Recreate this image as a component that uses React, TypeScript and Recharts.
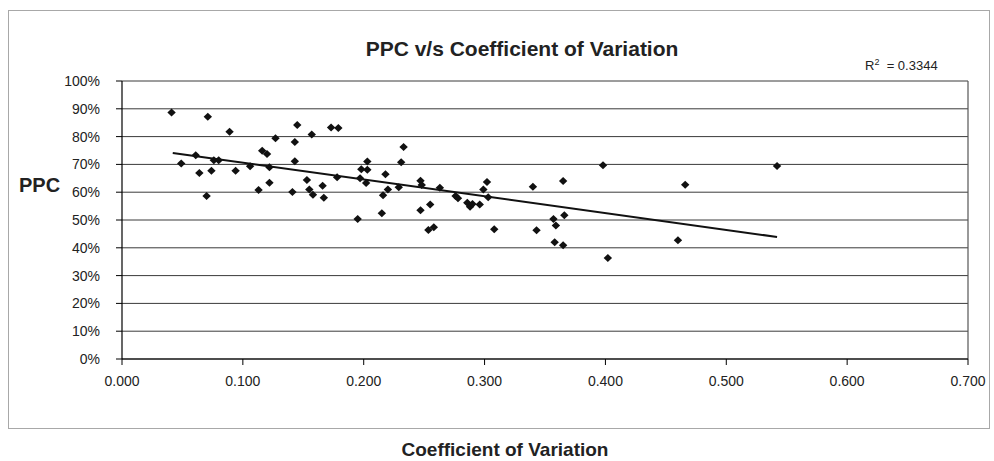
import React from "react";
import {
  ScatterChart,
  Scatter,
  XAxis,
  YAxis,
  CartesianGrid,
  ReferenceLine,
} from "recharts";

// Coefficient of Variation (x) values
const cvValues = [
  0.041, 0.049, 0.061, 0.064, 0.071, 0.07, 0.074, 0.076, 0.08, 0.089,
  0.094, 0.106, 0.113, 0.116, 0.12, 0.122, 0.122, 0.127, 0.145, 0.143,
  0.157, 0.173, 0.179, 0.143, 0.141, 0.153, 0.155, 0.158, 0.166, 0.167,
  0.178, 0.195, 0.197, 0.198, 0.203, 0.203, 0.202, 0.215, 0.216, 0.218,
  0.22, 0.229, 0.231, 0.233, 0.247, 0.248, 0.247, 0.255, 0.263, 0.2535,
  0.258, 0.276, 0.278, 0.2857, 0.288, 0.29, 0.296, 0.299, 0.302, 0.303,
  0.308, 0.34, 0.343, 0.357, 0.359, 0.358, 0.365, 0.366, 0.365, 0.398,
  0.402, 0.466, 0.46, 0.542,
];

// PPC (y) values, as fractions
const ppcValues = [
  0.887, 0.703, 0.733, 0.669, 0.871, 0.586, 0.677, 0.715, 0.715, 0.817,
  0.677, 0.693, 0.608, 0.749, 0.737, 0.69, 0.634, 0.794, 0.842, 0.781,
  0.808, 0.833, 0.831, 0.711, 0.601, 0.644, 0.61, 0.591, 0.623, 0.58,
  0.654, 0.504, 0.65, 0.683, 0.71, 0.681, 0.633, 0.524, 0.589, 0.665,
  0.61, 0.618, 0.708, 0.763, 0.641, 0.626, 0.535, 0.556, 0.616, 0.464,
  0.474, 0.586, 0.578, 0.562, 0.548, 0.558, 0.556, 0.61, 0.637, 0.582,
  0.467, 0.62, 0.463, 0.504, 0.48, 0.42, 0.64, 0.517, 0.409, 0.697,
  0.363, 0.627, 0.427, 0.694,
];

// Linear trend line endpoints
const trendX = [0.042, 0.542];
const trendY = [0.741, 0.439];

const xTicks = [0, 0.1, 0.2, 0.3, 0.4, 0.5, 0.6, 0.7];
const yTicks = [0, 0.1, 0.2, 0.3, 0.4, 0.5, 0.6, 0.7, 0.8, 0.9, 1.0];

const chartTitle = "PPC v/s Coefficient of Variation";
const xTitle = "Coefficient of Variation";
const yTitle = "PPC";
const r2Text = "0.3344";

const points = cvValues.map((x, i) => ({ x, y: ppcValues[i] }));
const trend = trendX.map((x, i) => ({ x, y: trendY[i] }));

const FONT = "'Liberation Sans', Arial, sans-serif";

const Diamond = (props: any) => {
  const { cx, cy } = props;
  if (cx == null || cy == null) return null;
  const w = 4.2;
  const h = 4;
  return (
    <polygon
      points={`${cx},${cy - h} ${cx + w},${cy} ${cx},${cy + h} ${cx - w},${cy}`}
      fill="#111"
      stroke="none"
    />
  );
};

export default function App() {
  return (
    <div
      style={{
        position: "absolute",
        left: 0,
        top: 0,
        width: 994,
        height: 461,
        background: "#fff",
        fontFamily: FONT,
        overflow: "hidden",
      }}
    >
      <div
        style={{
          position: "absolute",
          left: 8,
          top: 10,
          width: 980,
          height: 417,
          border: "1.5px solid #a8a8a8",
        }}
      />
      <ScatterChart
        width={994}
        height={461}
        margin={{ top: 81, right: 26, bottom: 72, left: 62 }}
        style={{ position: "absolute", left: 0, top: 0 }}
      >
        <CartesianGrid
          horizontal={true}
          vertical={false}
          stroke="#3a3a3a"
          strokeWidth={1}
        />
        <XAxis
          type="number"
          dataKey="x"
          domain={[0, 0.7]}
          ticks={xTicks}
          tickFormatter={(v: number) => v.toFixed(3)}
          height={30}
          tickSize={6}
          tickMargin={11}
          axisLine={{ stroke: "#000", strokeWidth: 1.2 }}
          tickLine={{ stroke: "#000" }}
          tick={{ fill: "#222", fontSize: 14, fontFamily: FONT }}
          allowDataOverflow
        />
        <YAxis
          type="number"
          dataKey="y"
          domain={[0, 1]}
          ticks={yTicks}
          tickFormatter={(v: number) => `${Math.round(v * 100)}%`}
          width={60}
          tickSize={6}
          tickMargin={16}
          axisLine={{ stroke: "#000", strokeWidth: 1.2 }}
          tickLine={{ stroke: "#000" }}
          tick={{ fill: "#222", fontSize: 14, fontFamily: FONT }}
          allowDataOverflow
        />
        <ReferenceLine x={0.7} stroke="#555" strokeWidth={1.2} />
        <Scatter
          data={points}
          shape={<Diamond />}
          isAnimationActive={false}
        />
        <Scatter
          data={trend}
          line={{ stroke: "#111", strokeWidth: 2 }}
          shape={() => null}
          isAnimationActive={false}
        />
      </ScatterChart>
      <div
        style={{
          position: "absolute",
          left: 0,
          width: 1044,
          top: 36,
          textAlign: "center",
          fontSize: 21,
          fontWeight: "bold",
          color: "#222",
          lineHeight: "26px",
        }}
      >
        {chartTitle}
      </div>
      <div
        style={{
          position: "absolute",
          left: 865,
          top: 54,
          fontSize: 13,
          color: "#222",
          lineHeight: "16px",
          whiteSpace: "nowrap",
        }}
      >
        R<sup style={{ fontSize: 9 }}>2</sup>&nbsp; = {r2Text}
      </div>
      <div
        style={{
          position: "absolute",
          left: 19,
          top: 173,
          fontSize: 20,
          fontWeight: "bold",
          color: "#222",
          lineHeight: "24px",
        }}
      >
        {yTitle}
      </div>
      <div
        style={{
          position: "absolute",
          left: 0,
          width: 1010,
          top: 438,
          textAlign: "center",
          fontSize: 19,
          fontWeight: "bold",
          color: "#222",
          lineHeight: "24px",
        }}
      >
        {xTitle}
      </div>
    </div>
  );
}
